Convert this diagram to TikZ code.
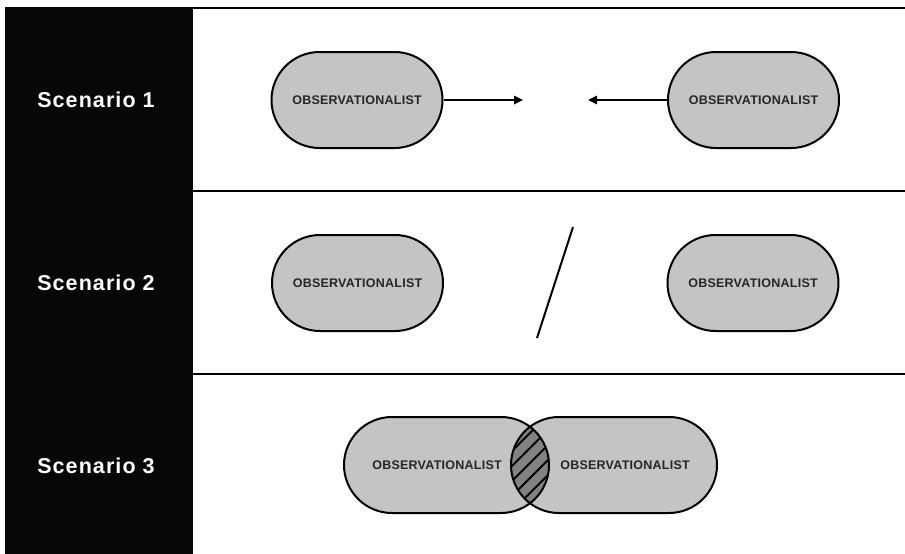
\documentclass[tikz,border=0pt]{standalone}
\usepackage{fontspec}
\setmainfont{Liberation Sans}
\newfontfamily\scfont[LetterSpace=5]{Liberation Sans}
\newfontfamily\pillfont[LetterSpace=2]{Liberation Sans}
\usetikzlibrary{shapes.misc,arrows.meta}
\definecolor{panel}{HTML}{050708}
\definecolor{pillgray}{HTML}{C4C4C4}
\definecolor{lensgray}{HTML}{828282}
\tikzset{
  rowrule/.style={line width=1.8pt, black},
  sclabel/.style={text=white, font=\scfont\bfseries\fontsize{21.5}{24}\selectfont, inner sep=0pt},
  pilltext/.style={font=\pillfont\bfseries\fontsize{12.5}{14}\selectfont, text=black!85, inner sep=0pt},
  pill/.style={rounded rectangle, draw, fill=pillgray, line width=2pt, minimum width=171pt, minimum height=96pt, inner sep=0pt, pilltext},
  pillline/.style={rounded rectangle, draw, line width=2pt, minimum height=96pt, inner sep=0pt},
  arrowline/.style={line width=1.7pt, -{Triangle[length=9pt,width=8.5pt]}},
  slashline/.style={line width=2pt},
  hatchline/.style={line width=1.8pt}
}
\begin{document}
\begin{tikzpicture}[x=1pt,y=-1pt]
\useasboundingbox (0,0) rectangle (905,554);
% left panel
\fill[panel] (5,7) rectangle (193,554);
% row rules
\draw[rowrule] (193,8) -- (905,8);
\draw[rowrule] (193,191) -- (905,191);
\draw[rowrule] (193,374) -- (905,374);
% scenario labels
\node[sclabel] (s1) at (96,100) {Scenario 1};
\node[sclabel] (s2) at (96,283) {Scenario 2};
\node[sclabel] (s3) at (96,466) {Scenario 3};
% scenario 1
\node[pill] (p1) at (357,100) {OBSERVATIONALIST};
\node[pill] (p2) at (753.5,100) {OBSERVATIONALIST};
\coordinate (a1) at (523,100);
\coordinate (a2) at (588,100);
\draw[arrowline] (p1.east) -- (a1);
\draw[arrowline] (p2.west) -- (a2);
% scenario 2
\node[pill] (p3) at (357.5,283) {OBSERVATIONALIST};
\node[pill] (p4) at (753,283) {OBSERVATIONALIST};
\coordinate (sl1) at (573,227);
\coordinate (sl2) at (537,338);
\draw[slashline] (sl1) -- (sl2);
% scenario 3
\fill[pillgray, rounded corners=48pt] (344,417) rectangle (549,513);
\fill[pillgray, rounded corners=48pt] (511,417) rectangle (717,513);
\begin{scope}
  \clip[rounded corners=48pt] (344,417) rectangle (549,513);
  \clip[rounded corners=48pt] (511,417) rectangle (717,513);
  \fill[lensgray] (500,410) rectangle (560,520);
  \foreach \k in {428,443,...,580} \draw[hatchline] (\k-60,520) -- ++(110,-110);
\end{scope}
\node[pillline, minimum width=205pt, label={[pilltext, xshift=-9.5pt]center:OBSERVATIONALIST}] (p5) at (446.5,465) {};
\node[pillline, minimum width=206pt, label={[pilltext, xshift=11pt]center:OBSERVATIONALIST}] (p6) at (614,465) {};
\end{tikzpicture}
\end{document}
